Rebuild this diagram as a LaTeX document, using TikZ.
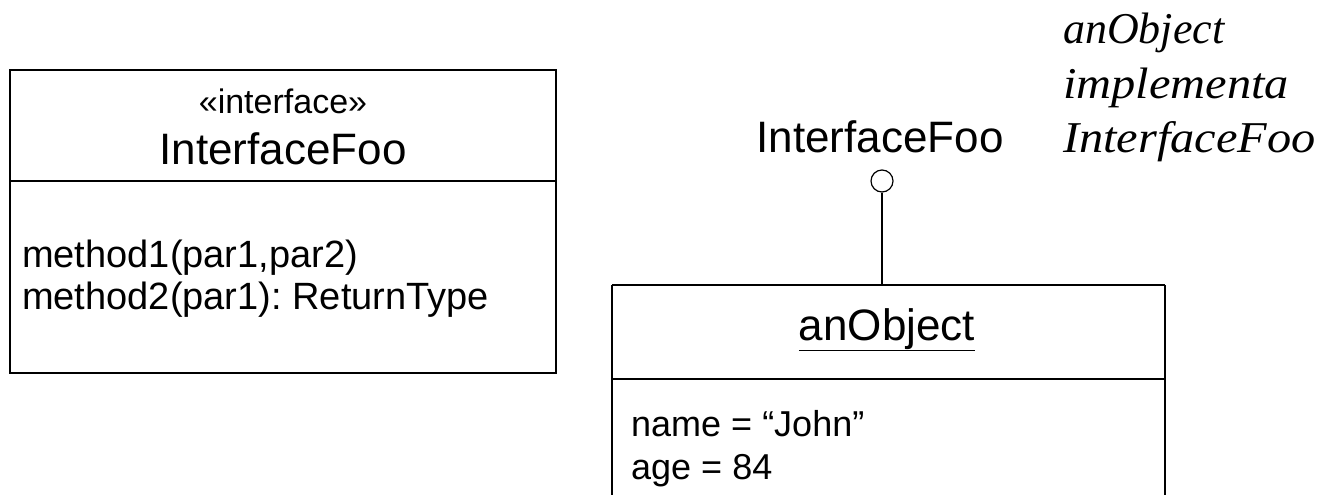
\documentclass[tikz,border=0pt]{standalone}
\usepackage{fontspec}
\setmainfont{Liberation Sans}
\newfontfamily\timesit{Liberation Serif}
\frenchspacing
\begin{document}
\begin{tikzpicture}[x=1pt,y=-1pt,
  box/.style={draw=black,line width=1.2pt},
  big/.style={font=\fontsize{44}{50}\selectfont,inner sep=0pt,anchor=base},
  mid/.style={font=\fontsize{36}{42}\selectfont,inner sep=0pt,anchor=base west},
  meth/.style={font=\fontsize{38}{44}\selectfont,inner sep=0pt,anchor=base west},
  stereo/.style={font=\fontsize{34}{40}\selectfont,inner sep=0pt,anchor=base},
  note/.style={font=\fontsize{44}{54}\selectfont\timesit\itshape,inner sep=0pt,anchor=base west}]
\useasboundingbox (0,0) rectangle (1329,495);
% interface class box
\draw[box] (10,70) rectangle (556,373);
\draw[box] (10,181) -- (556,181);
\node[stereo] (st) at (283,113) {«interface»};
\node[big] (ifname) at (283,164) {InterfaceFoo};
\node[meth] (m1) at (22,267) {method1(par1,par2)};
\node[meth] (m2) at (22,309) {method2(par1): ReturnType};
% object box
\draw[box] (612,285) -- (612,495);
\draw[box] (1165,285) -- (1165,495);
\draw[box] (612,285) -- (1165,285);
\coordinate (objtop) at (882,285);
\draw[box] (612,379) -- (1165,379);
\node[big] (obj) at (887,340) {\underline{anObject}};
\node[mid] (a1) at (631,436) {name = “John”};
\node[mid] (a2) at (631,479) {age = 84};
% lollipop
\node[draw=black,line width=1.2pt,circle,minimum size=22pt,inner sep=0pt] (lolli) at (882,181) {};
\draw[box] (lolli.south) -- (objtop);
\node[big] (lbl) at (880,152) {InterfaceFoo};
% note
\node[note] (n1) at (1063,44) {anObject};
\node[note] (n2) at (1063,98) {\scalebox{1.1}[1]{implementa}};
\node[note] (n3) at (1063,152) {\scalebox{1.1}[1]{InterfaceFoo}};
\end{tikzpicture}
\end{document}
